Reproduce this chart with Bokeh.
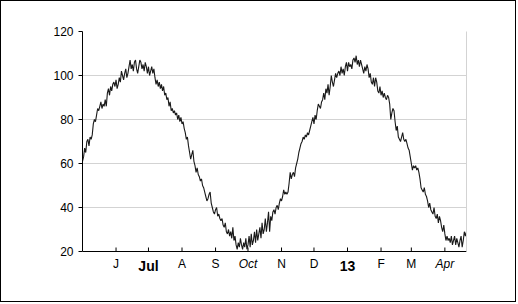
import pandas as pd
from bokeh.plotting import figure
from bokeh.models import Range1d, FixedTicker, Span, LinearAxis, ColumnDataSource
from bokeh.core.properties import value
from bokeh.embed import file_html
from bokeh.resources import INLINE

start_date = "2012-05-01"
values = [
    61, 63, 67, 65, 70, 71, 68, 72, 71, 73,
    78, 80, 79, 82, 85, 84, 86, 88, 85, 87,
    86, 89, 86, 92, 94, 91, 95, 93, 96, 97,
    95, 98, 94, 96, 99, 97, 102, 100, 98, 101,
    103, 99, 101, 104, 107, 103, 105, 102, 106, 107,
    103, 101, 104, 107, 106, 103, 105, 102, 106, 104,
    101, 104, 100, 102, 104, 101, 103, 99, 96, 98,
    95, 97, 94, 96, 93, 95, 91, 92, 89, 90,
    86, 88, 84, 85, 83, 84, 82, 83, 80, 82,
    79, 81, 78, 79, 76, 74, 71, 72, 68, 65,
    62, 64, 66, 61, 59, 56, 58, 55, 54, 52,
    53, 50, 49, 47, 45, 43, 44, 46, 47, 42,
    40, 38, 37, 39, 40, 36, 37, 35, 34, 35,
    32, 31, 33, 29, 28, 30, 27, 29, 26, 31,
    25, 27, 23, 21, 24, 22, 26, 23, 21, 24,
    22, 26, 21, 23, 27, 22, 28, 23, 25, 29,
    24, 30, 25, 28, 31, 26, 33, 28, 30, 35,
    29, 33, 38, 29, 36, 34, 38, 39, 37, 40,
    41, 39, 42, 44, 43, 45, 48, 46, 47, 46,
    47, 51, 56, 53, 55, 56, 54, 58, 60, 62,
    65, 67, 69, 70, 72, 71, 73, 72, 74, 73,
    75, 77, 79, 81, 78, 82, 80, 84, 87, 86,
    85, 88, 89, 92, 89, 94, 92, 96, 91, 95,
    100, 97, 95, 98, 101, 99, 101, 102, 100, 104,
    101, 103, 100, 104, 106, 102, 106, 104, 105, 103,
    107, 108, 106, 109, 105, 107, 104, 107, 105, 103,
    101, 104, 102, 105, 103, 99, 101, 97, 96, 99,
    95, 99, 97, 93, 92, 95, 91, 93, 90, 92,
    90, 89, 91, 90, 87, 80, 83, 85, 84, 79,
    75, 77, 72, 71, 70, 72, 74, 71, 70, 71,
    69, 67, 66, 63, 60, 57, 59, 58, 59, 57,
    58, 56, 53, 49, 48, 47, 49, 46, 45, 43,
    40, 42, 39, 38, 37, 40, 36, 35, 37, 33,
    36, 34, 31, 29, 32, 28, 25, 27, 25, 26,
    24, 27, 23, 25, 27, 23, 26, 24, 22, 25,
    27, 22, 25, 29, 27, 29,
]

tick_dates = ["2012-06-01", "2012-07-01", "2012-08-01", "2012-09-01", "2012-10-01",
              "2012-11-01", "2012-12-01", "2013-01-01", "2013-02-01", "2013-03-01",
              "2013-04-01"]
tick_labels = ["J", "Jul", "A", "S", "Oct", "N", "D", "13", "F", "M", "Apr"]
tick_styles = ["normal", "bold", "normal", "normal", "italic", "normal", "normal",
               "bold", "normal", "normal", "italic"]
y_ticks = [20, 40, 60, 80, 100, 120]

Y_MIN, Y_MAX = 20, 120
PX_PER_UNIT = 2.2          # 220 px frame for 100 units
BOTTOM_PX = 52             # room below the axis for tick labels

dates = pd.date_range(start_date, periods=len(values), freq="D")
src = ColumnDataSource(dict(x=dates, y=values))
tick_dt = [pd.Timestamp(d) for d in tick_dates]

p = figure(width=516, height=302, x_axis_type="datetime", x_axis_location=None,
           output_backend="svg", toolbar_location=None,
           x_range=Range1d(dates[0], dates[-1]),
           y_range=Range1d(Y_MIN - BOTTOM_PX / PX_PER_UNIT, Y_MAX),
           min_border_left=81, min_border_right=51, min_border_top=30,
           min_border_bottom=0)
p.styles = {"border": "1px solid black"}
p.background_fill_color = "white"
p.border_fill_color = "white"
p.outline_line_color = None
p.xgrid.grid_line_color = None

# left axis
p.yaxis.ticker = FixedTicker(ticks=y_ticks)
p.yaxis.bounds = (Y_MIN, Y_MAX)
p.yaxis.minor_tick_line_color = None
p.yaxis.major_tick_in = 0
p.yaxis.major_tick_out = 4
p.yaxis.major_label_standoff = 5
p.yaxis.major_label_text_font = "Liberation Sans"
p.yaxis.major_label_text_font_size = "12px"
p.yaxis.major_label_text_color = "black"
p.yaxis.axis_line_color = "black"
p.yaxis.major_tick_line_color = "black"
p.ygrid.grid_line_color = "#d3d3d3"

# right plot-area border
right = LinearAxis(ticker=FixedTicker(ticks=[]), bounds=(Y_MIN, Y_MAX),
                   axis_line_color="#d3d3d3", major_tick_line_color=None,
                   minor_tick_line_color=None, major_label_text_font_size="12px")
right.major_label_standoff = 0
p.add_layout(right, "right")

p.line("x", "y", source=src, line_color="#1a1a1a", line_width=1.1)

# x axis line and inward ticks
p.add_layout(Span(location=Y_MIN, dimension="width", line_color="black", line_width=1))
n = len(tick_dt)
p.segment(x0=tick_dt, y0=[Y_MIN] * n, x1=tick_dt,
          y1=[Y_MIN + 4 / PX_PER_UNIT] * n, line_color="black", line_width=1)

# tick labels
for style, size, base_px in [("normal", "12px", 12.5), ("italic", "12px", 12.5), ("bold", "14px", 14.5)]:
    xs = [t for t, s in zip(tick_dt, tick_styles) if s == style]
    labs = [l for l, s in zip(tick_labels, tick_styles) if s == style]
    p.text(x=xs, y=[Y_MIN - base_px / PX_PER_UNIT] * len(xs), text=labs,
           text_font=value("Liberation Sans"), text_font_size=value(size),
           text_font_style=style, text_color="black",
           text_align="center", text_baseline="alphabetic")

open("out.html", "w").write(file_html(p, INLINE))
